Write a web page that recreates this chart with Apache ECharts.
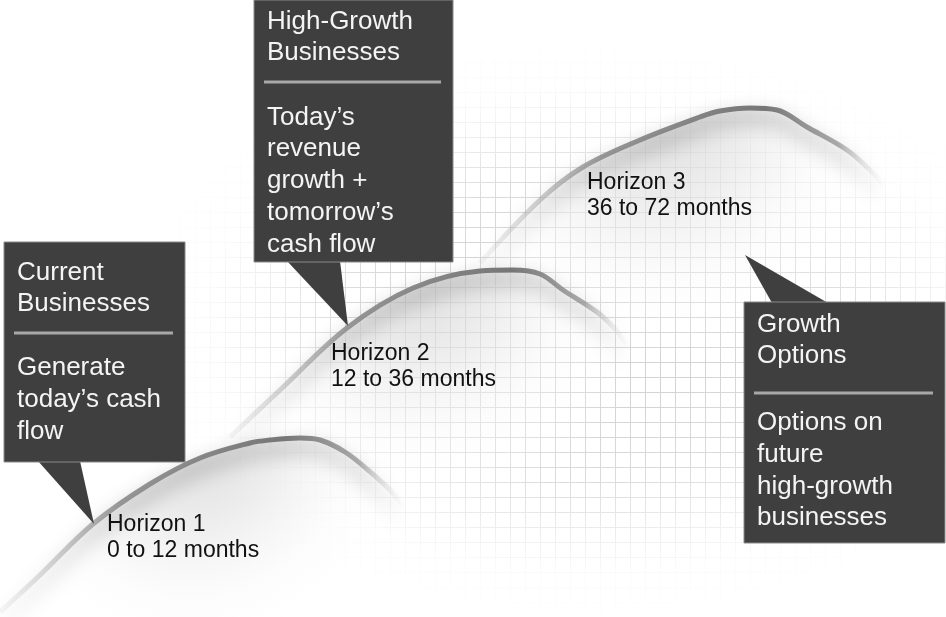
<!DOCTYPE html>
<html>
<head>
<meta charset="utf-8">
<script src="https://cdn.jsdelivr.net/npm/echarts@6/dist/echarts.min.js"></script>
<style>
html,body{margin:0;padding:0;background:#fff;}
#chart{width:946px;height:617px;}
</style>
</head>
<body>
<div id="chart"></div>
<script>
// ---- data (arbitrary diagram units) ----
const horizon1X = [0, 4, 9.3, 15, 20, 25, 27, 30, 32, 34.5, 36.8, 39, 40.5];
const horizon1Y = [0.5, 4.2, 9.3, 13.3, 15.9, 17.4, 17.7, 17.9, 17.7, 16.5, 14.7, 12.7, 10.8];
const horizon2X = [23, 28, 34.7, 41.3, 48, 51.3, 54, 56.3, 59.7, 61.5, 63];
const horizon2Y = [18.0, 22.7, 28.9, 32.9, 34.6, 34.7, 34.3, 32.7, 30.5, 28.8, 26.8];
const horizon3X = [48, 54, 58.3, 64, 70, 72, 75, 77.7, 80.7, 84.7, 87, 88.5];
const horizon3Y = [35.4, 41.7, 45, 47.7, 50, 50.6, 50.9, 50.7, 49, 46.7, 44.7, 43];

const horizonNames = ['Horizon 1', 'Horizon 2', 'Horizon 3'];
const horizonSpans = ['0 to 12 months', '12 to 36 months', '36 to 72 months'];

const calloutTitles = ['Current\nBusinesses', 'High-Growth\nBusinesses', 'Growth\nOptions'];
const calloutBodies = [
  'Generate\ntoday\u2019s cash\nflow',
  'Today\u2019s\nrevenue\ngrowth +\ntomorrow\u2019s\ncash flow',
  'Options on\nfuture\nhigh-growth\nbusinesses'
];

function pairs(xs, ys) { return xs.map((x, i) => [x, ys[i]]); }

const chart = echarts.init(document.getElementById('chart'), null, {renderer: 'canvas'});
const LG = echarts.graphic.LinearGradient;
const RG = echarts.graphic.RadialGradient;

function curveSeries(name, data, z) {
  return {
    name: name,
    type: 'line',
    data: data,
    smooth: 0.35,
    showSymbol: false,
    silent: true,
    z: z,
    lineStyle: {
      width: 5,
      color: new LG(0, 0, 1, 0, [
        {offset: 0, color: 'rgba(180,180,180,0.1)'},
        {offset: 0.3, color: 'rgba(140,140,140,0.9)'},
        {offset: 0.7, color: 'rgba(118,118,118,1)'},
        {offset: 0.88, color: 'rgba(145,145,145,0.75)'},
        {offset: 1, color: 'rgba(230,230,230,0)'}
      ]),
      shadowColor: 'rgba(0,0,0,0.5)',
      shadowBlur: 20,
      shadowOffsetY: 10
    },
    areaStyle: {color: 'rgba(255,255,255,0)'}
  };
}

const boxFont = '26px "Liberation Sans", Arial, sans-serif';

function callout(x, y, w, h, tail, titleY, bodyY, dividerY, title, body) {
  return {
    type: 'group',
    z: 20,
    children: [
      {type: 'polygon', z: 20, shape: {points: tail}, style: {fill: '#3f3f3f'}},
      {type: 'rect', z: 20, shape: {x: x, y: y, width: w, height: h},
        style: {fill: '#3f3f3f', stroke: '#8a8a8a', lineWidth: 1}},
      {type: 'line', z: 21, shape: {x1: x + 10, y1: dividerY, x2: x + w - 12, y2: dividerY},
        style: {stroke: '#a8a8a8', lineWidth: 3}},
      {type: 'text', z: 22, x: x + 13, y: titleY,
        style: {text: title, fill: '#f4f4f4', font: boxFont,
          lineHeight: 30.5, textVerticalAlign: 'top'}},
      {type: 'text', z: 22, x: x + 13, y: bodyY,
        style: {text: body, fill: '#f4f4f4', font: boxFont,
          lineHeight: 31.8, textVerticalAlign: 'top'}}
    ]
  };
}

function horizonLabel(x, y, i) {
  return {
    type: 'text', z: 15, x: x, y: y,
    style: {text: horizonNames[i] + '\n' + horizonSpans[i], fill: '#111',
      font: '23px "Liberation Sans", Arial, sans-serif', lineHeight: 25.5, textVerticalAlign: 'top'}
  };
}

const option = {
  backgroundColor: '#ffffff',
  animation: false,
  grid: {left: 0, right: 0, top: 0, bottom: 0},
  xAxis: {
    type: 'value', min: 0, max: 94.6, interval: 1.5,
    axisLine: {show: false}, axisTick: {show: false}, axisLabel: {show: false},
    splitLine: {show: true, lineStyle: {color: '#cbcbcb', width: 1}}
  },
  yAxis: {
    type: 'value', min: 0, max: 61.7, interval: 1.5,
    axisLine: {show: false}, axisTick: {show: false}, axisLabel: {show: false},
    splitLine: {show: true, lineStyle: {color: '#cbcbcb', width: 1}}
  },
  series: [
    curveSeries('Horizon 3', pairs(horizon3X, horizon3Y), 3),
    curveSeries('Horizon 2', pairs(horizon2X, horizon2Y), 4),
    curveSeries('Horizon 1', pairs(horizon1X, horizon1Y), 5)
  ],
  graphic: [
    // fade of the background grid toward the edges
    {
      type: 'rect', z: 1, silent: true,
      x: 590, y: 330, scaleX: 1, scaleY: 0.62,
      shape: {x: -1200, y: -1200, width: 2400, height: 2400},
      style: {
        fill: new RG(0.5, 0.5, 0.2, [
          {offset: 0, color: 'rgba(255,255,255,0.05)'},
          {offset: 0.5, color: 'rgba(255,255,255,0.3)'},
          {offset: 0.82, color: 'rgba(255,255,255,0.92)'},
          {offset: 1, color: 'rgba(255,255,255,1)'}
        ])
      }
    },
    horizonLabel(107, 512, 0),
    horizonLabel(331, 341, 1),
    horizonLabel(587, 170, 2),
    callout(4, 242, 181, 220, [[38, 461], [80, 461], [94, 524]], 258, 352, 333,
      calloutTitles[0], calloutBodies[0]),
    callout(254, 0, 199, 262, [[287, 261], [340, 261], [348, 326]], 7, 101.5, 82,
      calloutTitles[1], calloutBodies[1]),
    callout(744, 302, 201, 241, [[772, 303], [828, 303], [745, 255]], 310, 407, 393,
      calloutTitles[2], calloutBodies[2])
  ]
};
chart.setOption(option);

// Fill of each hump: a soft radial wash anchored on the hump's own rise,
// computed from the data through the chart's scales.
function humpFill(xs, ys) {
  const iPeak = ys.indexOf(Math.max.apply(null, ys));
  const s = chart.convertToPixel({gridIndex: 0}, [xs[0], ys[0]]);
  const p = chart.convertToPixel({gridIndex: 0}, [xs[iPeak], ys[iPeak]]);
  const e = chart.convertToPixel({gridIndex: 0}, [xs[xs.length - 1], ys[ys.length - 1]]);
  const cx = (s[0] + p[0]) / 2 + 40, cy = p[1];
  const r = Math.hypot(e[0] - cx, e[1] - cy) * 1.08;
  return new RG(cx, cy, r, [
    {offset: 0, color: 'rgba(200,200,200,0.95)'},
    {offset: 0.35, color: 'rgba(226,226,226,0.88)'},
    {offset: 0.65, color: 'rgba(248,248,248,0.6)'},
    {offset: 0.85, color: 'rgba(255,255,255,0.25)'},
    {offset: 1, color: 'rgba(255,255,255,0)'}
  ], true);
}
chart.setOption({
  series: [
    {areaStyle: {color: humpFill(horizon3X, horizon3Y)}},
    {areaStyle: {color: humpFill(horizon2X, horizon2Y)}},
    {areaStyle: {color: humpFill(horizon1X, horizon1Y)}}
  ]
});
</script>
</body>
</html>
